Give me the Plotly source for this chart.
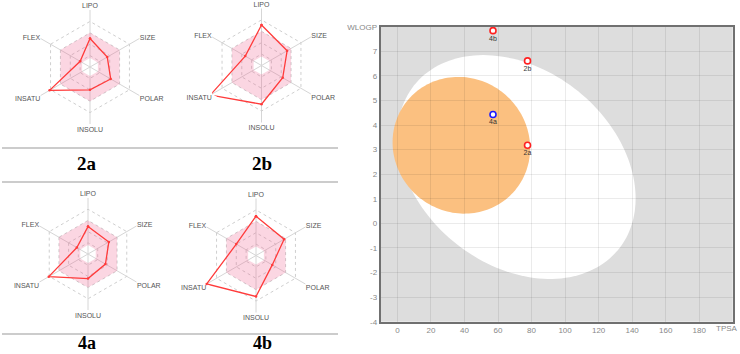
import numpy as np
import plotly.graph_objects as go

W, H = 740, 354

# ---------------- data ----------------
radar_axes = ["LIPO", "SIZE", "POLAR", "INSOLU", "INSATU", "FLEX"]
compound_names = ["2a", "2b", "4a", "4b"]
radar_2a = [0.50, 0.35, 0.42, 0.40, 0.82, 0.20]
radar_2b = [0.71, 0.52, 0.43, 0.68, 1.04, 0.33]
radar_4a = [0.49, 0.43, 0.36, 0.44, 0.81, 0.23]
radar_4b = [0.69, 0.57, 0.33, 0.72, 1.00, 0.40]
optimal_outer = [0.60, 0.60, 0.60, 0.60, 0.60, 0.60]
optimal_inner = [0.16, 0.16, 0.16, 0.16, 0.16, 0.16]
radar_grid_levels = [0.2, 0.4, 0.6, 0.8, 1.0]

# BOILED-Egg points
egg_names = ["2a", "2b", "4a", "4b"]
egg_tpsa = [77.6, 77.6, 57.0, 57.0]
egg_wlogp = [3.18, 6.61, 4.43, 7.84]
egg_pgp_substrate = [False, False, True, False]

# BOILED-Egg ellipses: centre TPSA, centre WLOGP, width, height, angle (deg)
white_ellipse = [71.051, 2.292, 142.081, 8.740, -1.031325]
yolk_ellipse = [38.117, 3.177, 82.061, 5.557, -0.171887]

x_ticks = [0, 20, 40, 60, 80, 100, 120, 140, 160, 180]
x_ticktext = ["0", "20", "40", "60", "80", "100", "120", "140", "160", "180"]
x_title = "TPSA"
y_ticks = [-4, -3, -2, -1, 0, 1, 2, 3, 4, 5, 6, 7, 8]
y_ticktext = ["-4", "-3", "-2", "-1", "0", "1", "2", "3", "4", "5", "6", "7", "WLOGP"]

# ---------------- figure ----------------
fig = go.Figure()

radar_values = {"2a": radar_2a, "2b": radar_2b, "4a": radar_4a, "4b": radar_4b}
# centre x, centre y, radius in pixels
radar_geom = {"2a": (90, 67, 57), "2b": (261.5, 65.5, 57), "4a": (88, 254, 56), "4b": (256, 255.5, 57)}

for i, name in enumerate(compound_names):
    pid = "polar" if i == 0 else f"polar{i+1}"
    vals = radar_values[name]
    theta_outer = radar_axes + [radar_axes[0]]
    theta_inner = [radar_axes[0]] + radar_axes[::-1]
    # pink optimal ring (outer then inner reversed)
    fig.add_trace(go.Scatterpolar(
        r=optimal_outer + [optimal_outer[0]] + [optimal_inner[0]] + optimal_inner[::-1],
        theta=theta_outer + theta_inner,
        mode="lines", fill="toself", fillcolor="rgba(240,90,140,0.25)",
        line=dict(width=0), subplot=pid, hoverinfo="skip", showlegend=False))
    fig.add_trace(go.Scatterpolar(
        r=vals + [vals[0]], theta=theta_outer, mode="lines+markers",
        line=dict(color="#ff3b3b", width=1.3), marker=dict(size=2.5, color="#ff3b3b"),
        subplot=pid, showlegend=False, cliponaxis=False))
    cx, cy, R = radar_geom[name]
    fig.layout[pid] = dict(
        domain=dict(x=[(cx - R) / W, (cx + R) / W], y=[1 - (cy + R) / H, 1 - (cy - R) / H]),
        gridshape="linear", bgcolor="rgba(0,0,0,0)",
        radialaxis=dict(range=[0, 1.001], tickvals=radar_grid_levels, showticklabels=False,
                        ticks="", showline=False, gridcolor="#cfcfcf", gridwidth=0.8, griddash="dot"),
        angularaxis=dict(direction="clockwise", rotation=90, type="category",
                         categoryorder="array", categoryarray=radar_axes,
                         tickfont=dict(size=7, color="#555", family="Liberation Sans"),
                         ticks="", showline=False,
                         gridcolor="#d6d6d6", gridwidth=0.8),
    )


def ellipse_path(params, n=160):
    cx, cy, w, h, ang = params
    t = np.linspace(0, 2 * np.pi, n)
    a = np.deg2rad(ang)
    xs = cx + w / 2 * np.cos(t) * np.cos(a) - h / 2 * np.sin(t) * np.sin(a)
    ys = cy + w / 2 * np.cos(t) * np.sin(a) + h / 2 * np.sin(t) * np.cos(a)
    return "M " + " L ".join(f"{x:.3f},{y:.3f}" for x, y in zip(xs, ys)) + " Z"


fig.add_shape(type="path", path=ellipse_path(white_ellipse), xref="x", yref="y",
              fillcolor="white", line=dict(width=0), layer="below")
fig.add_shape(type="path", path=ellipse_path(yolk_ellipse), xref="x", yref="y",
              fillcolor="#fbc080", line=dict(width=0), layer="below")

colors = ["#1a1aff" if p else "#ff2020" for p in egg_pgp_substrate]
fig.add_trace(go.Scatter(
    x=egg_tpsa, y=egg_wlogp, mode="markers+text", text=egg_names,
    textposition="bottom center", textfont=dict(size=7, color="#333", family="Liberation Sans"),
    marker=dict(size=6, color="white", line=dict(color=colors, width=1.6)),
    showlegend=False, cliponaxis=False))

fig.update_layout(
    width=W, height=H, margin=dict(l=0, r=0, t=0, b=0, autoexpand=False),
    paper_bgcolor="white", plot_bgcolor="#dddddd",
    xaxis=dict(domain=[380.7 / W, 732.7 / W], range=[-10, 200.001], tickvals=x_ticks, ticktext=x_ticktext,
               showgrid=True, gridcolor="rgba(0,0,0,0.08)", gridwidth=1, zeroline=False,
               showline=True, linecolor="#707070", linewidth=2, mirror=True, ticks="",
               ticklabeloverflow="allow", automargin=False,
               tickfont=dict(size=8, color="#888", family="Liberation Sans")),
    yaxis=dict(domain=[1 - 321.7 / H, 1 - 26.7 / H], range=[-4, 8.001], tickvals=y_ticks, ticktext=y_ticktext,
               showgrid=True, gridcolor="rgba(0,0,0,0.08)", gridwidth=1, zeroline=False,
               showline=True, linecolor="#707070", linewidth=2, mirror=True, ticks="",
               ticklabeloverflow="allow", automargin=False,
               tickfont=dict(size=8, color="#888", family="Liberation Sans")),
)

# x axis name placed where the last tick label sits (kept inside the page)
fig.add_annotation(x=1.0, y=1 - 328 / H, xref="paper", yref="paper", text=x_title,
                   xanchor="right", yanchor="middle", showarrow=False,
                   font=dict(size=8, color="#888", family="Liberation Sans"))

# divider lines
for yy in [148, 182, 334]:
    fig.add_shape(type="line", xref="paper", yref="paper", x0=2 / W, x1=338 / W,
                  y0=1 - yy / H, y1=1 - yy / H, line=dict(color="#9a9a9a", width=1.2))

label_pos = {"2a": (87, 163), "2b": (262, 163), "4a": (87, 342.5), "4b": (262, 342.5)}
label_size = {"2a": 19, "2b": 19, "4a": 18, "4b": 18}
for name in compound_names:
    lx, ly = label_pos[name]
    fig.add_annotation(x=lx / W, y=1 - ly / H, xref="paper", yref="paper", text=f"<b>{name}</b>",
                       xanchor="center", yanchor="middle", showarrow=False,
                       font=dict(size=label_size[name], color="black", family="Liberation Serif"))

fig.write_html("out.html")
